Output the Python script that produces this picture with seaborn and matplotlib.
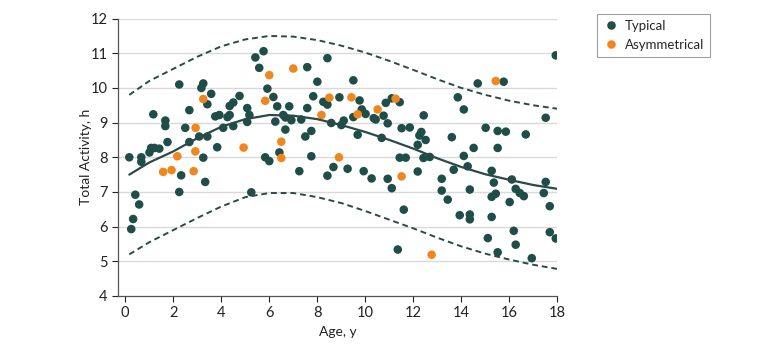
import matplotlib
matplotlib.use("Agg")
import matplotlib.pyplot as plt
import seaborn as sns
import pandas as pd

# Typical group (age in years, total activity in hours)
typical_age = [
    0.17, 0.25, 0.33, 0.42, 0.58, 0.67, 0.67, 1.01, 1.08, 1.17, 1.22, 1.42, 1.67, 1.67,
    1.76, 2.25, 2.25, 2.33, 2.5, 2.67, 2.67, 3.08, 3.17, 3.25, 3.25, 3.33, 3.42, 3.42,
    3.58, 3.75, 3.83, 3.92, 4.08, 4.26, 4.35, 4.35, 4.5, 4.5, 4.76, 5.08, 5.08, 5.17,
    5.25, 5.42, 5.58, 5.76, 5.83, 5.92, 6.0, 6.17, 6.25, 6.33, 6.42, 6.58, 6.67, 6.67,
    6.83, 6.92, 7.25, 7.33, 7.5, 7.58, 7.58, 7.75, 7.75, 7.83, 8.0, 8.25, 8.42, 8.42,
    8.42, 8.58, 8.67, 8.92, 9.0, 9.1, 9.26, 9.5, 9.5, 9.68, 9.76, 9.85, 9.93, 10.01,
    10.26, 10.35, 10.43, 10.68, 10.76, 10.85, 10.93, 10.93, 11.1, 11.1, 11.35, 11.43,
    11.43, 11.51, 11.6, 11.68, 11.85, 12.18, 12.18, 12.25, 12.33, 12.43, 12.42, 12.51,
    12.68, 13.18, 13.18, 13.43, 13.6, 13.68, 13.85, 13.93, 14.1, 14.1, 14.26, 14.35,
    14.35, 14.35, 14.51, 14.68, 15.01, 15.1, 15.26, 15.26, 15.26, 15.35, 15.43, 15.51,
    15.51, 15.51, 15.76, 15.85, 16.01, 16.1, 16.18, 16.26, 16.26, 16.43, 16.6, 16.68,
    16.93, 17.43, 17.51, 17.51, 17.68, 17.68, 17.93, 17.93,
]
typical_activity = [
    8.0, 5.93, 6.22, 6.92, 6.64, 8.0, 7.87, 8.14, 8.27, 9.24, 8.27, 8.25, 9.06, 8.9,
    8.44, 10.1, 7.0, 7.48, 8.85, 9.36, 8.44, 8.6, 10.0, 10.13, 7.99, 7.29, 8.6, 9.53,
    9.83, 9.18, 8.29, 9.22, 8.85, 9.16, 9.22, 9.48, 9.58, 8.9, 9.77, 9.42, 9.02, 9.22,
    6.99, 10.88, 10.58, 11.06, 8.0, 9.98, 7.89, 9.74, 9.03, 9.47, 8.14, 9.22, 9.15, 8.8,
    9.47, 9.07, 7.6, 9.09, 8.6, 9.42, 10.6, 8.76, 8.03, 9.76, 10.18, 9.6, 9.52, 10.86,
    7.47, 8.99, 7.72, 9.73, 8.93, 9.06, 7.67, 10.22, 9.16, 8.65, 9.64, 9.38, 7.6, 9.25,
    7.39, 9.13, 9.09, 8.56, 9.2, 9.57, 7.38, 8.98, 7.11, 9.7, 5.34, 9.59,
    7.99, 8.84, 6.49, 7.99, 8.86, 7.59, 8.36, 8.63, 8.73, 9.21, 7.98, 8.5,
    8.01, 7.38, 7.04, 6.78, 8.58, 7.64, 9.73, 6.33, 9.38, 8.04, 7.74, 7.07,
    6.35, 6.21, 8.27, 10.13, 8.85, 5.67, 7.61, 6.86, 6.28, 7.27, 6.95, 8.76,
    8.27, 5.26, 10.18, 8.74, 6.71, 7.36, 5.88, 7.09, 5.48, 6.97, 6.88, 8.66,
    5.09, 6.97, 9.14, 7.29, 6.59, 5.84, 10.94, 5.66,
]

# Asymmetrical group
asym_age = [1.58, 1.93, 2.17, 2.85, 2.92, 2.93, 3.25, 4.93, 5.83, 6.0, 6.5, 6.5, 7.0,
            8.17, 8.5, 8.9, 9.42, 9.68, 10.51, 11.26, 11.51, 12.76, 15.43]
asym_activity = [7.58, 7.63, 8.03, 7.6, 8.17, 8.85, 9.68, 8.28, 9.63, 10.37, 8.45, 7.98,
                 10.56, 9.22, 9.72, 8.0, 9.73, 9.24, 9.38, 9.69, 7.45, 5.19, 10.2]

# Fitted curve and band
curve_age = [0.17, 1, 2, 3, 4, 5, 6, 7, 8, 9, 10, 11, 12, 13, 14, 15, 16, 17, 18]
fit_mid = [7.5, 7.85, 8.17, 8.55, 8.88, 9.1, 9.22, 9.2, 9.1, 8.93, 8.73, 8.5, 8.25,
           7.97, 7.72, 7.51, 7.35, 7.2, 7.09]
fit_upper = [9.8, 10.2, 10.55, 10.9, 11.2, 11.4, 11.5, 11.48, 11.38, 11.22, 11.02,
             10.78, 10.52, 10.25, 10.0, 9.8, 9.63, 9.5, 9.4]
fit_lower = [5.2, 5.55, 5.9, 6.25, 6.58, 6.85, 6.97, 6.97, 6.85, 6.68, 6.45, 6.2, 5.95,
             5.68, 5.43, 5.22, 5.05, 4.9, 4.78]

teal = "#1f4d48"
orange = "#f0861e"

points = pd.concat([
    pd.DataFrame({"age": typical_age, "activity": typical_activity, "group": "Typical"}),
    pd.DataFrame({"age": asym_age, "activity": asym_activity, "group": "Asymmetrical"}),
])
curves = pd.DataFrame({"age": curve_age, "mid": fit_mid, "upper": fit_upper, "lower": fit_lower})

sns.set_style("white")
plt.rcParams["font.family"] = ["Lato", "DejaVu Sans"]

fig = plt.figure(figsize=(7.8, 3.51), dpi=100)
ax = fig.add_axes([0.1513, 0.1567, 0.5634, 0.7903])

for y in range(5, 13):
    ax.axhline(y, color="#d9d9d9", lw=1, zorder=0)

sns.scatterplot(data=points, x="age", y="activity", hue="group",
                palette={"Typical": teal, "Asymmetrical": orange},
                s=38, edgecolor="none", ax=ax, zorder=3)

sns.lineplot(data=curves, x="age", y="mid", color="#2a4a47", lw=1.6, ax=ax, zorder=4)
sns.lineplot(data=curves, x="age", y="upper", color="#2a4a47", lw=1.4,
             linestyle=(0, (3, 2)), ax=ax, zorder=4)
sns.lineplot(data=curves, x="age", y="lower", color="#2a4a47", lw=1.4,
             linestyle=(0, (3, 2)), ax=ax, zorder=4)

ax.set_xlim(-0.3, 18)
ax.set_ylim(4, 12)
ax.set_xticks(range(0, 19, 2))
ax.set_yticks(range(4, 13))
ax.set_xlabel("Age, y", fontsize=10, color="#222222")
ax.set_ylabel("Total Activity, h", fontsize=10, color="#222222", labelpad=-1)
ax.tick_params(axis="both", labelsize=10.5, colors="#222222", length=4, width=0.8,
               direction="out", left=True, bottom=True)
for side in ["top", "right"]:
    ax.spines[side].set_visible(False)
for side in ["left", "bottom"]:
    ax.spines[side].set_color("#555555")
    ax.spines[side].set_linewidth(0.9)

handles, labels = ax.get_legend_handles_labels()
leg = ax.legend(handles[:2], labels[:2], loc="upper left", bbox_to_anchor=(1.09, 1.016),
                borderaxespad=0, frameon=True, fancybox=False, fontsize=9.5,
                handletextpad=0.45, borderpad=0.45, labelspacing=0.5, handlelength=1.2)
leg.get_frame().set_edgecolor("#888888")
leg.get_frame().set_linewidth(0.8)

fig.savefig("out.png", dpi=100)
